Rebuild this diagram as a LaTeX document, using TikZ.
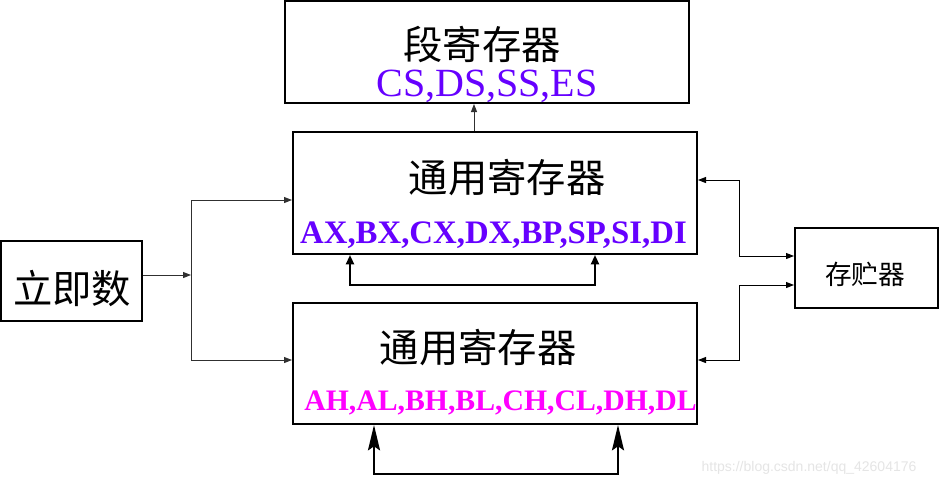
\documentclass[tikz,border=0pt]{standalone}
\usepackage{fontspec}
\setmainfont{Liberation Serif}
\newfontfamily\cjk{Noto Sans CJK SC}
\newfontfamily\wmfont{Liberation Sans}
\usepackage{tikz}
\usetikzlibrary{positioning,arrows.meta,calc}
\definecolor{regviolet}{HTML}{6600FF}
\definecolor{regmagenta}{HTML}{FF00FF}
\definecolor{wiregrey}{HTML}{303030}
\tikzset{
  blk/.style={draw=black, line width=1.5pt, fill=white, inner sep=0pt},
  cn big/.style={font=\cjk\fontsize{29.5}{31}\selectfont, inner sep=0pt},
  cn small/.style={font=\cjk\fontsize{20}{22}\selectfont, inner sep=0pt},
  reg seg/.style={font=\fontsize{30}{32}\selectfont, text=regviolet, anchor=base, inner sep=0pt},
  reg x/.style={font=\bfseries\fontsize{24.6}{26}\selectfont, text=regviolet, anchor=base, inner sep=0pt},
  reg h/.style={font=\bfseries\fontsize{22.3}{24}\selectfont, text=regmagenta, anchor=base, inner sep=0pt},
  wire/.style={-{Triangle[length=6pt, width=4.5pt]}, line width=0.75pt, wiregrey},
  wire2/.style={{Triangle[length=6pt, width=4.5pt]}-{Triangle[length=6pt, width=4.5pt]}, line width=0.75pt, black},
  loop up/.style={{Triangle[length=7pt, width=6pt]}-{Triangle[length=7pt, width=6pt]}, line width=1.5pt, black},
  loop big/.style={{Stealth[length=19pt, width=9pt, inset=3pt]}-{Stealth[length=19pt, width=9pt, inset=3pt]}, line width=1.5pt, black},
  wmark/.style={font=\wmfont\fontsize{10.5}{12}\selectfont, text=black!10, inner sep=0pt},
}
\begin{document}
\begin{tikzpicture}[x=0.75pt, y=-0.75pt]
  \fill[white] (0,0) rectangle (940,487);
  \useasboundingbox (0,0) rectangle (940,487);
  % boxes
  \node[blk, minimum width=303pt, minimum height=76.5pt] (seg) at (487,52) {};
  \node[blk, minimum width=303pt, minimum height=91.5pt] (gpx) at (495,193) {};
  \node[blk, minimum width=303pt, minimum height=90.75pt] (gph) at (495,363.5) {};
  \node[blk, minimum width=105.75pt, minimum height=60pt] (imm) at (71.5,281) {};
  \node[blk, minimum width=107.25pt, minimum height=60pt] (mem) at (866.5,268) {};
  % texts
  \node[cn big] (segname) at (482,45) {段寄存器};
  \node[reg seg] (seglist) at (487,96) {CS,DS,SS,ES};
  \node[cn big] (gpxname) at (507,178) {通用寄存器};
  \node[reg x] (gpxlist) at (493.5,243) {AX,BX,CX,DX,BP,SP,SI,DI};
  \node[cn big] (gphname) at (478,348) {通用寄存器};
  \node[reg h] (gphlist) at (500.5,410) {AH,AL,BH,BL,CH,CL,DH,DL};
  \node[cn big] (immname) at (72,288) {立即数};
  \node[cn small] (memname) at (865,274) {存贮器};
  \node[wmark] (wm) at (809,468) {https://blog.csdn.net/qq\_42604176};
  % connectors
  \draw[wire] ($(gpx.north)+(-21,0)$) coordinate (up) -- (up |- seg.south);
  \draw[wire] ($(imm.east)+(0,-6)$) -- ++(48,0) coordinate (fork);
  \draw[wire] (fork) |- ($(gpx.west)+(0,7)$);
  \draw[wire] (fork) |- ($(gph.west)+(0,-3.5)$);
  \draw[wire2] ($(gpx.east)+(0,-13)$) -- ++(41,0) |- ($(mem.west)+(0,-12)$);
  \draw[wire2] ($(gph.east)+(0,-3.5)$) -- ++(41,0) |- ($(mem.west)+(0,17)$);
  \draw[loop up] ($(gpx.south west)+(58,0)$) -- ++(0,30) -| ($(gpx.south west)+(303,0)$);
  \draw[loop big] ($(gph.south west)+(82,0)$) -- ++(0,49) -| ($(gph.south west)+(326,0)$);
\end{tikzpicture}
\end{document}
